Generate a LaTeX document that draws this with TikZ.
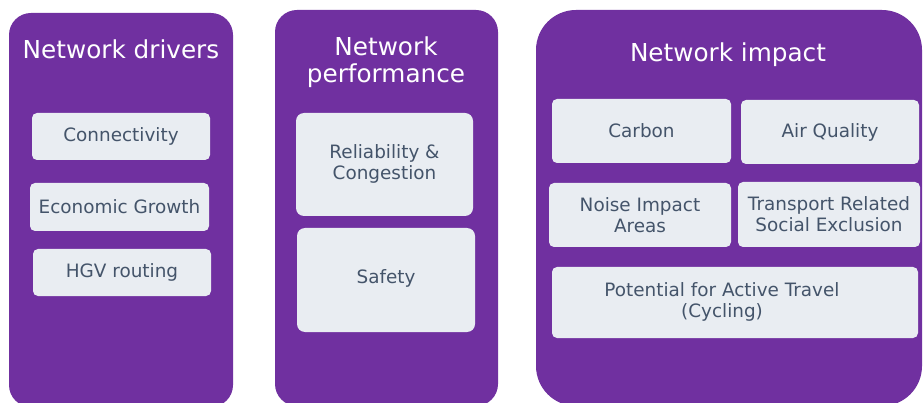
\documentclass[tikz,border=0pt]{standalone}
\usepackage{fontspec}
\setmainfont{DejaVu Sans}
\definecolor{panelpurple}{HTML}{7030A0}
\definecolor{boxfill}{HTML}{E9EDF2}
\definecolor{boxtext}{HTML}{44546A}
\tikzset{
  panel/.style={fill=panelpurple, draw=none, rounded corners=22pt, inner sep=0pt},
  title/.style={text=white, font=\fontsize{24.7}{27}\selectfont, align=center, inner sep=0pt},
  itembox/.style={fill=boxfill, draw=none, rounded corners=5pt, inner sep=0pt},
  itemtext/.style={text=boxtext, font=\fontsize{18.4}{21}\selectfont, align=center, inner sep=0pt},
}
\begin{document}
\begin{tikzpicture}[x=1pt,y=-1pt]
\useasboundingbox[fill=white] (0,0) rectangle (923,403);
% panels
\node[panel, minimum width=224pt, minimum height=394pt] (p1) at (121,210) {};
\node[panel, minimum width=223pt, minimum height=396pt] (p2) at (386.5,208) {};
\node[panel, rounded corners=40pt, minimum width=386pt, minimum height=396pt] (p3) at (729,208) {};
% titles
\node[title, anchor=base] (t1) at (121,59) {Network drivers};
\node[title] (t2) at (386,62.5) {Network\\performance};
\node[title, anchor=base] (t3) at (728,62) {Network impact};
% panel 1 items
\node[itembox, minimum width=178pt, minimum height=47pt] (b1) at (121,136.5) {};
\node[itemtext] at (b1) {Connectivity};
\node[itembox, minimum width=179pt, minimum height=48pt] (b2) at (119.5,207) {};
\node[itemtext] at (b2) {Economic Growth};
\node[itembox, minimum width=178pt, minimum height=47pt] (b3) at (122,272.5) {};
\node[itemtext] at (b3) {HGV routing};
% panel 2 items
\node[itembox, rounded corners=8pt, minimum width=177pt, minimum height=103pt] (b4) at (384.5,164.5) {};
\node[itemtext] at ([yshift=1pt]b4) {Reliability \&\\Congestion};
\node[itembox, rounded corners=8pt, minimum width=178pt, minimum height=104pt] (b5) at (386,280) {};
\node[itemtext] at ([yshift=2pt]b5) {Safety};
% panel 3 items
\node[itembox, minimum width=179pt, minimum height=64pt] (b6) at (641.5,131) {};
\node[itemtext] at (b6) {Carbon};
\node[itembox, minimum width=178pt, minimum height=64pt] (b7) at (830,132) {};
\node[itemtext] at (b7) {Air Quality};
\node[itembox, minimum width=182pt, minimum height=64pt] (b8) at (640,215) {};
\node[itemtext] at (b8) {Noise Impact\\Areas};
\node[itembox, minimum width=182pt, minimum height=65pt] (b9) at (829,214.5) {};
\node[itemtext] at (b9) {Transport Related\\Social Exclusion};
\node[itembox, minimum width=366pt, minimum height=71pt] (b10) at (735,302.5) {};
\node[itemtext] (t10) at (722,302) {Potential for Active Travel\\(Cycling)};
\end{tikzpicture}
\end{document}
